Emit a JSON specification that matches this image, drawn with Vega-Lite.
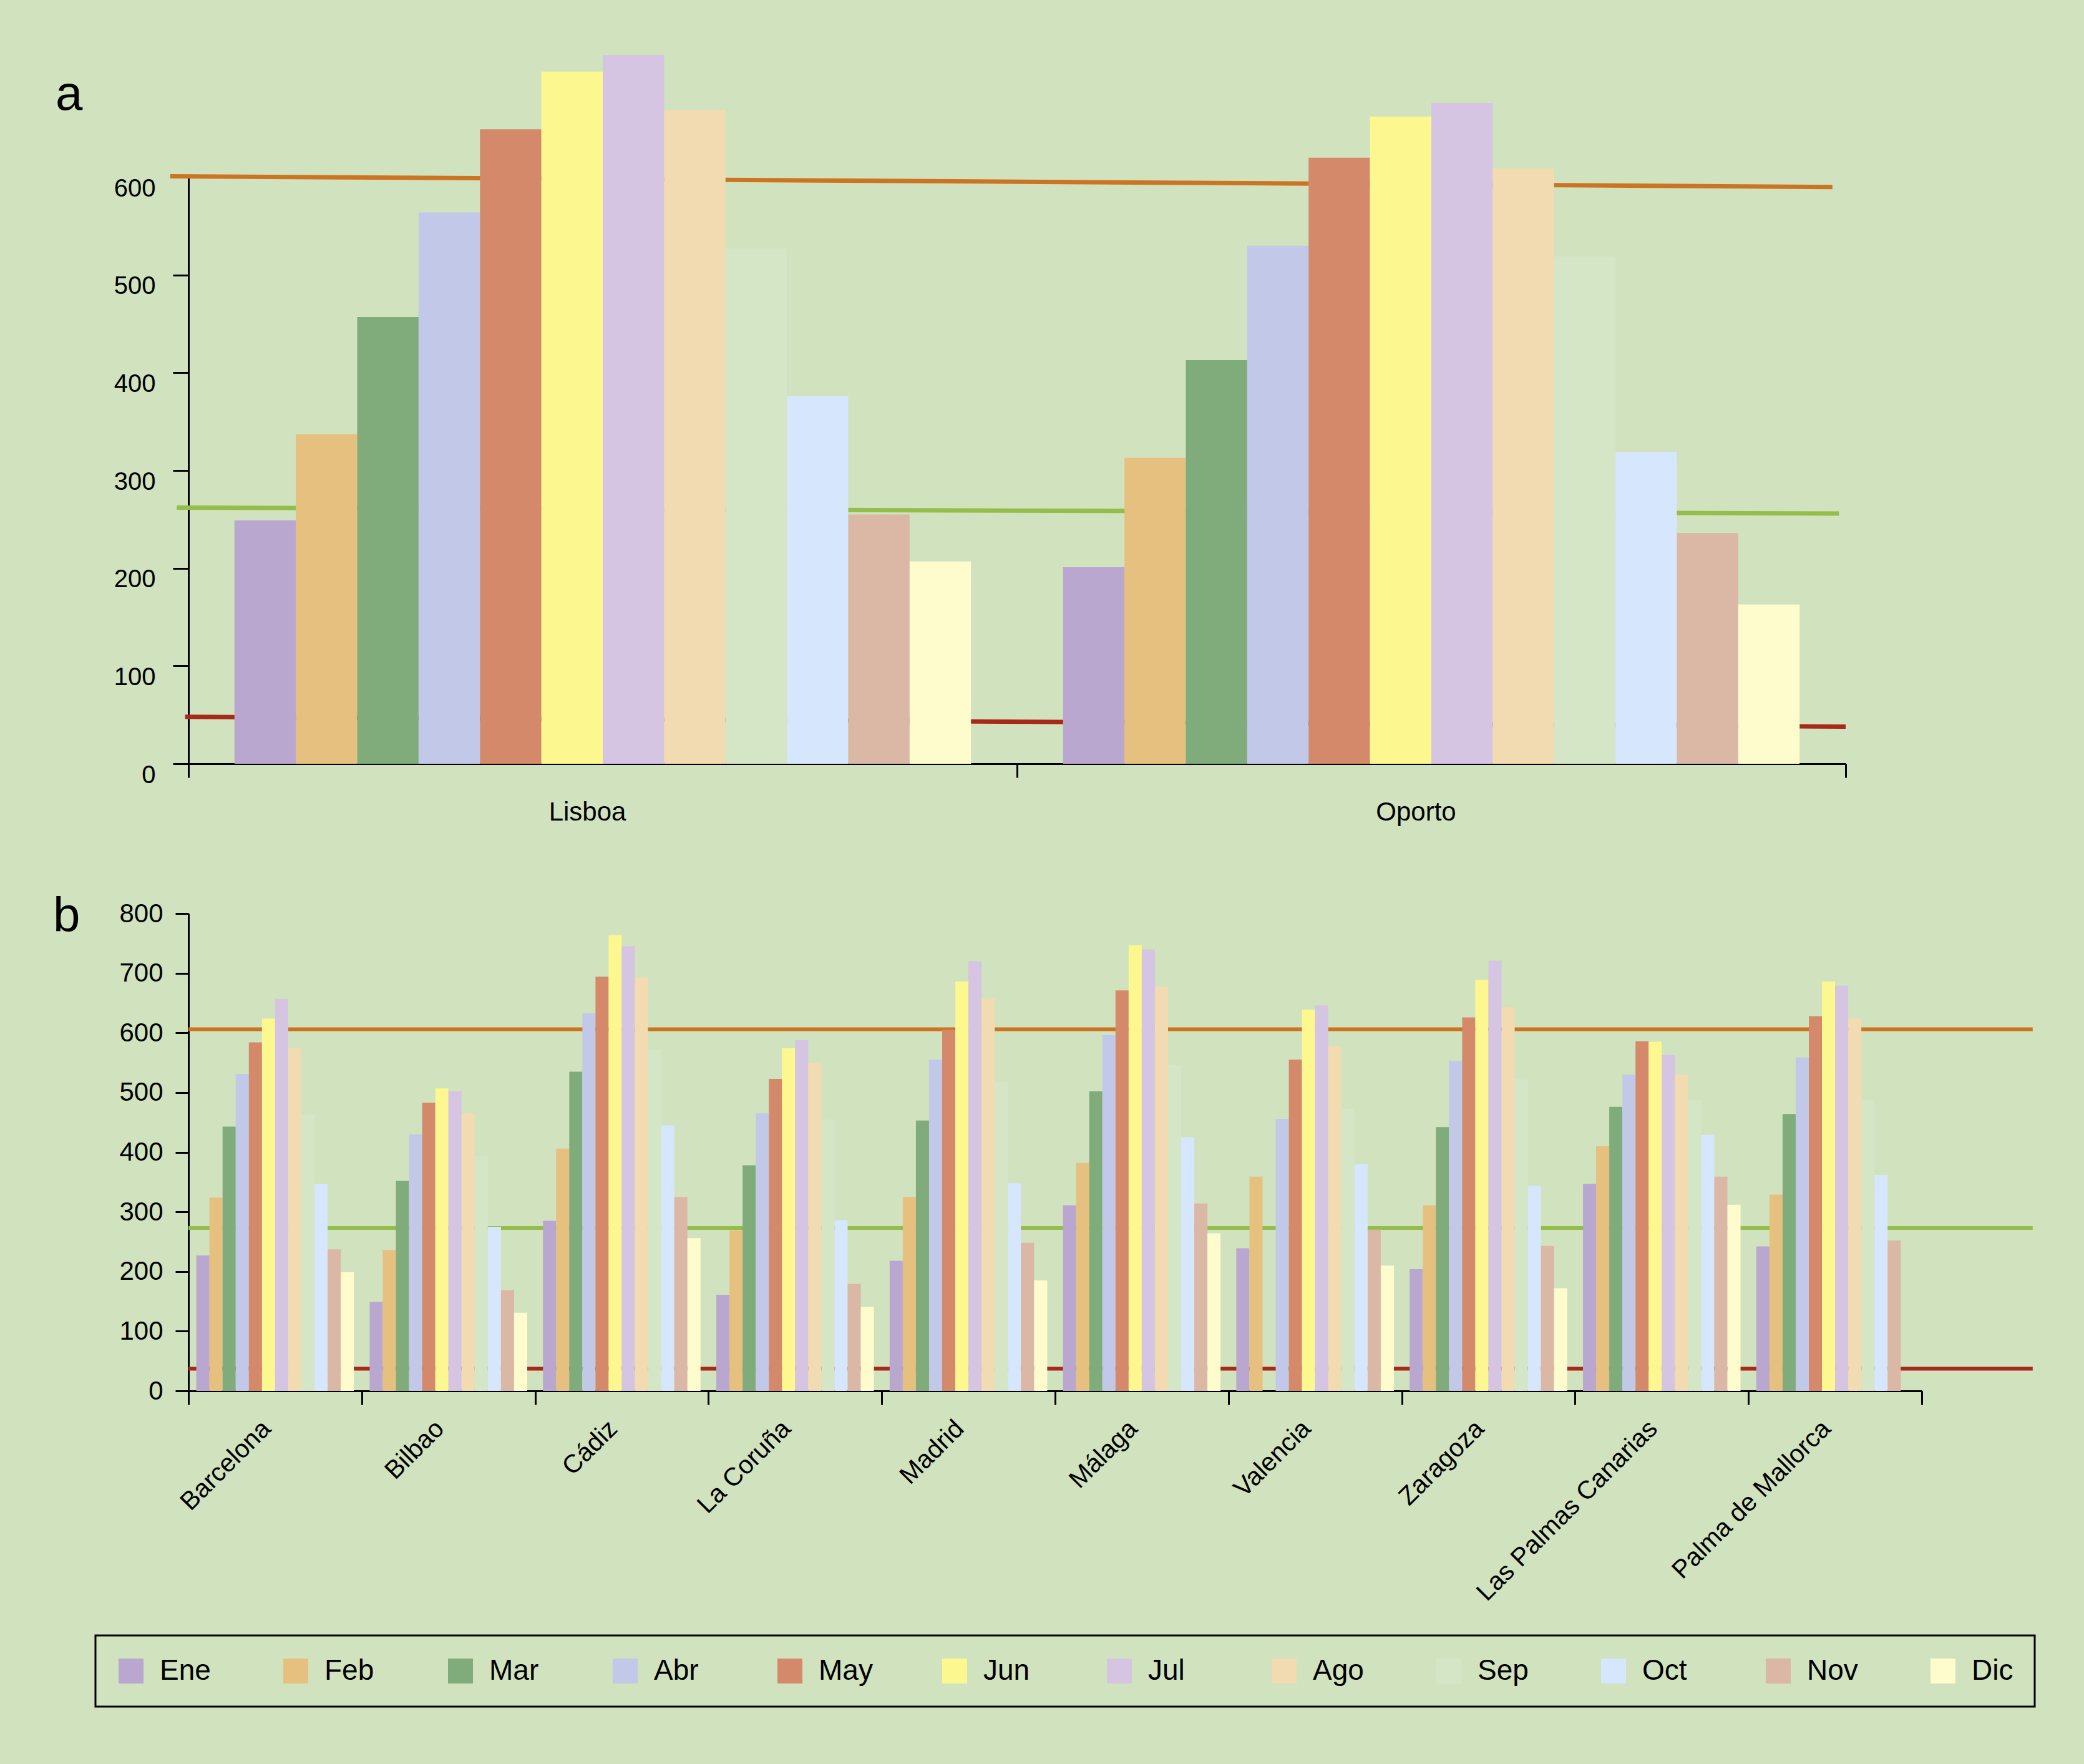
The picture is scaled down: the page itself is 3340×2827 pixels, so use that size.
{
  "$schema": "https://vega.github.io/schema/vega-lite/v6.json",
  "background": "#d0e2be",
  "padding": {"left": 85, "top": 88, "right": 86, "bottom": 97},
  "config": {
    "font": "Liberation Sans",
    "view": {"stroke": null},
    "axis": {
      "domainColor": "#000000", "domainWidth": 3,
      "tickColor": "#000000", "tickWidth": 3,
      "labelColor": "#000000", "labelFont": "Liberation Sans", "labelFontSize": 42,
      "labelLimit": 2000, "grid": false, "title": null
    },
    "legend": {"strokeColor": "#000000", "strokeWidth": 3},
    "title": {"font": "Liberation Sans", "fontSize": 78, "fontWeight": "normal", "color": "#000000", "anchor": "start", "frame": "group"}
  },
  "resolve": {"scale": {"xOffset": "independent"}},
  "datasets": {
    "portugal": [
      {"estacion": "Lisboa", "mes": "Ene", "valor": 249}, {"estacion": "Lisboa", "mes": "Feb", "valor": 337},
      {"estacion": "Lisboa", "mes": "Mar", "valor": 457}, {"estacion": "Lisboa", "mes": "Abr", "valor": 564},
      {"estacion": "Lisboa", "mes": "May", "valor": 649}, {"estacion": "Lisboa", "mes": "Jun", "valor": 708},
      {"estacion": "Lisboa", "mes": "Jul", "valor": 725}, {"estacion": "Lisboa", "mes": "Ago", "valor": 669},
      {"estacion": "Lisboa", "mes": "Sep", "valor": 527}, {"estacion": "Lisboa", "mes": "Oct", "valor": 376},
      {"estacion": "Lisboa", "mes": "Nov", "valor": 255}, {"estacion": "Lisboa", "mes": "Dic", "valor": 207},
      {"estacion": "Oporto", "mes": "Ene", "valor": 201}, {"estacion": "Oporto", "mes": "Feb", "valor": 313},
      {"estacion": "Oporto", "mes": "Mar", "valor": 413}, {"estacion": "Oporto", "mes": "Abr", "valor": 530},
      {"estacion": "Oporto", "mes": "May", "valor": 620}, {"estacion": "Oporto", "mes": "Jun", "valor": 662},
      {"estacion": "Oporto", "mes": "Jul", "valor": 676}, {"estacion": "Oporto", "mes": "Ago", "valor": 609},
      {"estacion": "Oporto", "mes": "Sep", "valor": 519}, {"estacion": "Oporto", "mes": "Oct", "valor": 319},
      {"estacion": "Oporto", "mes": "Nov", "valor": 236}, {"estacion": "Oporto", "mes": "Dic", "valor": 163}
    ],
    "lineas_a": [
      {"linea": "max", "pos": -0.011, "valor": 601}, {"linea": "max", "pos": 0.992, "valor": 590},
      {"linea": "med", "pos": -0.007, "valor": 262}, {"linea": "med", "pos": 0.996, "valor": 256},
      {"linea": "min", "pos": -0.002, "valor": 48}, {"linea": "min", "pos": 1.0, "valor": 38}
    ],
    "espana": [
      {"ciudad": "Barcelona", "mes": "Ene", "valor": 227}, {"ciudad": "Barcelona", "mes": "Feb", "valor": 324},
      {"ciudad": "Barcelona", "mes": "Mar", "valor": 443}, {"ciudad": "Barcelona", "mes": "Abr", "valor": 531},
      {"ciudad": "Barcelona", "mes": "May", "valor": 584}, {"ciudad": "Barcelona", "mes": "Jun", "valor": 624},
      {"ciudad": "Barcelona", "mes": "Jul", "valor": 657}, {"ciudad": "Barcelona", "mes": "Ago", "valor": 574},
      {"ciudad": "Barcelona", "mes": "Sep", "valor": 463}, {"ciudad": "Barcelona", "mes": "Oct", "valor": 347},
      {"ciudad": "Barcelona", "mes": "Nov", "valor": 237}, {"ciudad": "Barcelona", "mes": "Dic", "valor": 199},
      {"ciudad": "Bilbao", "mes": "Ene", "valor": 149}, {"ciudad": "Bilbao", "mes": "Feb", "valor": 236},
      {"ciudad": "Bilbao", "mes": "Mar", "valor": 352}, {"ciudad": "Bilbao", "mes": "Abr", "valor": 430},
      {"ciudad": "Bilbao", "mes": "May", "valor": 483}, {"ciudad": "Bilbao", "mes": "Jun", "valor": 507},
      {"ciudad": "Bilbao", "mes": "Jul", "valor": 502}, {"ciudad": "Bilbao", "mes": "Ago", "valor": 465},
      {"ciudad": "Bilbao", "mes": "Sep", "valor": 393}, {"ciudad": "Bilbao", "mes": "Oct", "valor": 275},
      {"ciudad": "Bilbao", "mes": "Nov", "valor": 169}, {"ciudad": "Bilbao", "mes": "Dic", "valor": 131},
      {"ciudad": "Cádiz", "mes": "Ene", "valor": 285}, {"ciudad": "Cádiz", "mes": "Feb", "valor": 406},
      {"ciudad": "Cádiz", "mes": "Mar", "valor": 535}, {"ciudad": "Cádiz", "mes": "Abr", "valor": 633},
      {"ciudad": "Cádiz", "mes": "May", "valor": 694}, {"ciudad": "Cádiz", "mes": "Jun", "valor": 764},
      {"ciudad": "Cádiz", "mes": "Jul", "valor": 745}, {"ciudad": "Cádiz", "mes": "Ago", "valor": 693},
      {"ciudad": "Cádiz", "mes": "Sep", "valor": 571}, {"ciudad": "Cádiz", "mes": "Oct", "valor": 445},
      {"ciudad": "Cádiz", "mes": "Nov", "valor": 325}, {"ciudad": "Cádiz", "mes": "Dic", "valor": 256},
      {"ciudad": "La Coruña", "mes": "Ene", "valor": 161}, {"ciudad": "La Coruña", "mes": "Feb", "valor": 269},
      {"ciudad": "La Coruña", "mes": "Mar", "valor": 378}, {"ciudad": "La Coruña", "mes": "Abr", "valor": 465},
      {"ciudad": "La Coruña", "mes": "May", "valor": 523}, {"ciudad": "La Coruña", "mes": "Jun", "valor": 574},
      {"ciudad": "La Coruña", "mes": "Jul", "valor": 588}, {"ciudad": "La Coruña", "mes": "Ago", "valor": 549},
      {"ciudad": "La Coruña", "mes": "Sep", "valor": 455}, {"ciudad": "La Coruña", "mes": "Oct", "valor": 286},
      {"ciudad": "La Coruña", "mes": "Nov", "valor": 179}, {"ciudad": "La Coruña", "mes": "Dic", "valor": 141},
      {"ciudad": "Madrid", "mes": "Ene", "valor": 218}, {"ciudad": "Madrid", "mes": "Feb", "valor": 325},
      {"ciudad": "Madrid", "mes": "Mar", "valor": 453}, {"ciudad": "Madrid", "mes": "Abr", "valor": 555},
      {"ciudad": "Madrid", "mes": "May", "valor": 605}, {"ciudad": "Madrid", "mes": "Jun", "valor": 686},
      {"ciudad": "Madrid", "mes": "Jul", "valor": 720}, {"ciudad": "Madrid", "mes": "Ago", "valor": 658},
      {"ciudad": "Madrid", "mes": "Sep", "valor": 517}, {"ciudad": "Madrid", "mes": "Oct", "valor": 348},
      {"ciudad": "Madrid", "mes": "Nov", "valor": 248}, {"ciudad": "Madrid", "mes": "Dic", "valor": 185},
      {"ciudad": "Málaga", "mes": "Ene", "valor": 311}, {"ciudad": "Málaga", "mes": "Feb", "valor": 382},
      {"ciudad": "Málaga", "mes": "Mar", "valor": 502}, {"ciudad": "Málaga", "mes": "Abr", "valor": 596},
      {"ciudad": "Málaga", "mes": "May", "valor": 671}, {"ciudad": "Málaga", "mes": "Jun", "valor": 747},
      {"ciudad": "Málaga", "mes": "Jul", "valor": 740}, {"ciudad": "Málaga", "mes": "Ago", "valor": 677},
      {"ciudad": "Málaga", "mes": "Sep", "valor": 546}, {"ciudad": "Málaga", "mes": "Oct", "valor": 425},
      {"ciudad": "Málaga", "mes": "Nov", "valor": 314}, {"ciudad": "Málaga", "mes": "Dic", "valor": 264},
      {"ciudad": "Valencia", "mes": "Ene", "valor": 239}, {"ciudad": "Valencia", "mes": "Feb", "valor": 359},
      {"ciudad": "Valencia", "mes": "Abr", "valor": 456},
      {"ciudad": "Valencia", "mes": "May", "valor": 555}, {"ciudad": "Valencia", "mes": "Jun", "valor": 639},
      {"ciudad": "Valencia", "mes": "Jul", "valor": 646}, {"ciudad": "Valencia", "mes": "Ago", "valor": 578},
      {"ciudad": "Valencia", "mes": "Sep", "valor": 473}, {"ciudad": "Valencia", "mes": "Oct", "valor": 380},
      {"ciudad": "Valencia", "mes": "Nov", "valor": 270}, {"ciudad": "Valencia", "mes": "Dic", "valor": 210},
      {"ciudad": "Zaragoza", "mes": "Ene", "valor": 204}, {"ciudad": "Zaragoza", "mes": "Feb", "valor": 311},
      {"ciudad": "Zaragoza", "mes": "Mar", "valor": 442}, {"ciudad": "Zaragoza", "mes": "Abr", "valor": 553},
      {"ciudad": "Zaragoza", "mes": "May", "valor": 626}, {"ciudad": "Zaragoza", "mes": "Jun", "valor": 689},
      {"ciudad": "Zaragoza", "mes": "Jul", "valor": 721}, {"ciudad": "Zaragoza", "mes": "Ago", "valor": 643},
      {"ciudad": "Zaragoza", "mes": "Sep", "valor": 522}, {"ciudad": "Zaragoza", "mes": "Oct", "valor": 344},
      {"ciudad": "Zaragoza", "mes": "Nov", "valor": 243}, {"ciudad": "Zaragoza", "mes": "Dic", "valor": 172},
      {"ciudad": "Las Palmas Canarias", "mes": "Ene", "valor": 347}, {"ciudad": "Las Palmas Canarias", "mes": "Feb", "valor": 410},
      {"ciudad": "Las Palmas Canarias", "mes": "Mar", "valor": 476}, {"ciudad": "Las Palmas Canarias", "mes": "Abr", "valor": 530},
      {"ciudad": "Las Palmas Canarias", "mes": "May", "valor": 586}, {"ciudad": "Las Palmas Canarias", "mes": "Jun", "valor": 585},
      {"ciudad": "Las Palmas Canarias", "mes": "Jul", "valor": 563}, {"ciudad": "Las Palmas Canarias", "mes": "Ago", "valor": 530},
      {"ciudad": "Las Palmas Canarias", "mes": "Sep", "valor": 487}, {"ciudad": "Las Palmas Canarias", "mes": "Oct", "valor": 429},
      {"ciudad": "Las Palmas Canarias", "mes": "Nov", "valor": 359}, {"ciudad": "Las Palmas Canarias", "mes": "Dic", "valor": 312},
      {"ciudad": "Palma de Mallorca", "mes": "Ene", "valor": 242}, {"ciudad": "Palma de Mallorca", "mes": "Feb", "valor": 329},
      {"ciudad": "Palma de Mallorca", "mes": "Mar", "valor": 464}, {"ciudad": "Palma de Mallorca", "mes": "Abr", "valor": 559},
      {"ciudad": "Palma de Mallorca", "mes": "May", "valor": 628}, {"ciudad": "Palma de Mallorca", "mes": "Jun", "valor": 686},
      {"ciudad": "Palma de Mallorca", "mes": "Jul", "valor": 679}, {"ciudad": "Palma de Mallorca", "mes": "Ago", "valor": 624},
      {"ciudad": "Palma de Mallorca", "mes": "Sep", "valor": 487}, {"ciudad": "Palma de Mallorca", "mes": "Oct", "valor": 362},
      {"ciudad": "Palma de Mallorca", "mes": "Nov", "valor": 252}
    ],
    "lineas_b": [
      {"linea": "max", "pos": 0, "valor": 606}, {"linea": "max", "pos": 1.064, "valor": 606},
      {"linea": "med", "pos": 0, "valor": 273}, {"linea": "med", "pos": 1.064, "valor": 273},
      {"linea": "min", "pos": 0, "valor": 37}, {"linea": "min", "pos": 1.064, "valor": 37}
    ]
  },
  "spacing": 109,
  "vconcat": [
    {
      "width": 2656,
      "height": 940,
      "title": {"text": "a", "offset": -166, "dx": -213, "baseline": "alphabetic"},
      "layer": [
        {
          "data": {"name": "lineas_a"},
          "mark": {"type": "line", "strokeWidth": 7, "strokeCap": "butt"},
          "encoding": {
            "x": {"field": "pos", "type": "quantitative", "scale": {"domain": [0, 1], "nice": false, "zero": false}, "axis": null},
            "y": {"field": "valor", "type": "quantitative", "scale": {"domain": [0, 600], "nice": false}},
            "stroke": {"field": "linea", "type": "nominal", "scale": {"domain": ["max", "med", "min"], "range": ["#cc7422", "#94bd4c", "#a8281a"]}, "legend": null}
          }
        },
        {
          "data": {"name": "portugal"},
          "mark": {"type": "bar"},
          "encoding": {
            "x": {"field": "estacion", "type": "nominal", "sort": ["Lisboa", "Oporto"],
                  "scale": {"paddingInner": 0, "paddingOuter": 0},
                  "axis": {"orient": "bottom", "tickBand": "extent", "labelAngle": 0, "tickSize": 22, "labelPadding": 35, "labelOffset": -25}},
            "xOffset": {"field": "mes", "type": "nominal",
                        "sort": ["Ene", "Feb", "Mar", "Abr", "May", "Jun", "Jul", "Ago", "Sep", "Oct", "Nov", "Dic"],
                        "scale": {"domain": ["Ene", "Feb", "Mar", "Abr", "May", "Jun", "Jul", "Ago", "Sep", "Oct", "Nov", "Dic"], "paddingInner": 0, "paddingOuter": 0.75}},
            "y": {"field": "valor", "type": "quantitative", "scale": {"domain": [0, 600], "nice": false},
                  "axis": {"orient": "left", "values": [0, 100, 200, 300, 400, 500, 600], "tickSize": 25, "labelPadding": 28, "labelOffset": 18, "labelFontSize": 40}},
            "color": {"field": "mes", "type": "nominal",
                      "scale": {"domain": ["Ene", "Feb", "Mar", "Abr", "May", "Jun", "Jul", "Ago", "Sep", "Oct", "Nov", "Dic"],
                                "range": ["#b9a7d0", "#e6c07f", "#80ab7a", "#c2c9e8", "#d4896b", "#fdf78f", "#d5c4e2", "#f2dbb1", "#d5e6c7", "#d6e6fc", "#dbb8a6", "#fefbcd"]},
                      "legend": {"title": null, "orient": "none", "legendX": -149, "legendY": 2337, "direction": "horizontal", "columns": 12, "gridAlign": "all",
                                 "symbolType": "square", "symbolSize": 1600, "symbolStrokeWidth": 0, "symbolOpacity": 1,
                                 "labelFontSize": 46, "labelFont": "Liberation Sans", "labelColor": "#000000", "labelOffset": 23,
                                 "columnPadding": 108, "padding": 34, "strokeColor": "#000000"}}
          }
        }
      ],
      "resolve": {"scale": {"x": "independent"}, "axis": {"x": "independent"}}
    },
    {
      "width": 2778,
      "height": 765,
      "title": {"text": "b", "offset": -128, "dx": -217, "baseline": "alphabetic"},
      "layer": [
        {
          "data": {"name": "lineas_b"},
          "mark": {"type": "line", "strokeWidth": 6, "strokeCap": "butt"},
          "encoding": {
            "x": {"field": "pos", "type": "quantitative", "scale": {"domain": [0, 1], "nice": false, "zero": false}, "axis": null},
            "y": {"field": "valor", "type": "quantitative", "scale": {"domain": [0, 800], "nice": false}},
            "stroke": {"field": "linea", "type": "nominal", "scale": {"domain": ["max", "med", "min"], "range": ["#cc7422", "#94bd4c", "#b24024"]}, "legend": null}
          }
        },
        {
          "data": {"name": "espana"},
          "mark": {"type": "bar"},
          "encoding": {
            "x": {"field": "ciudad", "type": "nominal",
                  "sort": ["Barcelona", "Bilbao", "Cádiz", "La Coruña", "Madrid", "Málaga", "Valencia", "Zaragoza", "Las Palmas Canarias", "Palma de Mallorca"],
                  "scale": {"paddingInner": 0, "paddingOuter": 0},
                  "axis": {"orient": "bottom", "tickBand": "extent", "labelAngle": -45, "tickSize": 22, "labelPadding": 18, "labelOffset": -28, "labelFontSize": 41}},
            "xOffset": {"field": "mes", "type": "nominal",
                        "sort": ["Ene", "Feb", "Mar", "Abr", "May", "Jun", "Jul", "Ago", "Sep", "Oct", "Nov", "Dic"],
                        "scale": {"domain": ["Ene", "Feb", "Mar", "Abr", "May", "Jun", "Jul", "Ago", "Sep", "Oct", "Nov", "Dic"], "paddingInner": 0, "paddingOuter": 0.6}},
            "y": {"field": "valor", "type": "quantitative", "scale": {"domain": [0, 800], "nice": false},
                  "axis": {"orient": "left", "values": [0, 100, 200, 300, 400, 500, 600, 700, 800], "tickSize": 21, "labelPadding": 20}},
            "color": {"field": "mes", "type": "nominal",
                      "scale": {"domain": ["Ene", "Feb", "Mar", "Abr", "May", "Jun", "Jul", "Ago", "Sep", "Oct", "Nov", "Dic"],
                                "range": ["#b9a7d0", "#e6c07f", "#80ab7a", "#c2c9e8", "#d4896b", "#fdf78f", "#d5c4e2", "#f2dbb1", "#d5e6c7", "#d6e6fc", "#dbb8a6", "#fefbcd"]},
                      "legend": {"title": null, "orient": "none", "legendX": -149, "legendY": 2337, "direction": "horizontal", "columns": 12, "gridAlign": "all",
                                 "symbolType": "square", "symbolSize": 1600, "symbolStrokeWidth": 0, "symbolOpacity": 1,
                                 "labelFontSize": 46, "labelFont": "Liberation Sans", "labelColor": "#000000", "labelOffset": 23,
                                 "columnPadding": 108, "padding": 34, "strokeColor": "#000000"}}
          }
        }
      ],
      "resolve": {"scale": {"x": "independent"}, "axis": {"x": "independent"}}
    }
  ]
}
